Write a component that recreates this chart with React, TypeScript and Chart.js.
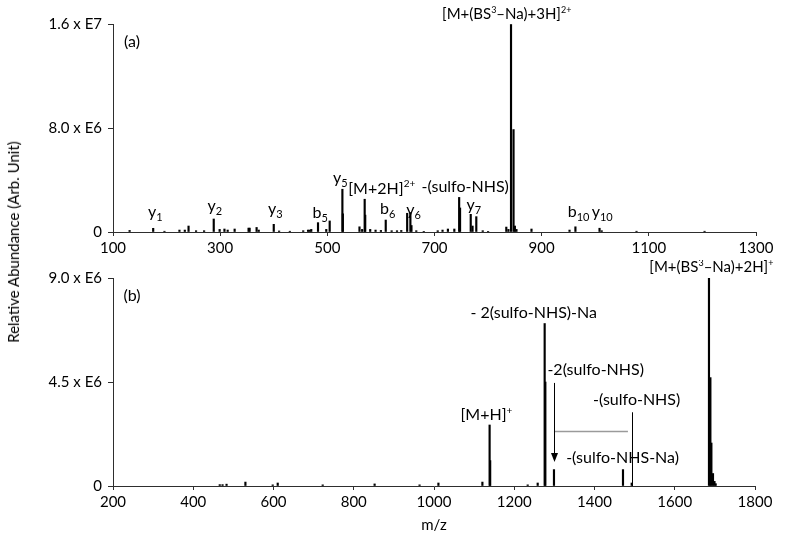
import React, { useEffect, useRef } from 'react';
import { Chart, registerables } from 'chart.js';
Chart.register(...registerables);

const FONT = 'Lato, "Open Sans", sans-serif';

// ---------- Panel (a) ----------
const xTicksA = [100, 300, 500, 700, 900, 1100, 1300];
const yTicksA = [0, 8e6, 1.6e7];
const yTickLabelsA = ['0', '8.0 x E6', '1.6 x E7'];
const mzA = [
  131, 175, 196, 224, 234, 241, 255, 270, 288, 299,
  308, 314, 327, 353, 355, 368, 372, 400, 410, 430,
  455, 464, 467, 470, 482.6, 498, 504.4, 528.1, 529, 560,
  565, 569.7, 570.7, 580, 590, 600, 609, 620, 630, 638,
  649, 655, 657, 666, 680, 706, 715, 725, 737, 746,
  747.7, 767.6, 771, 778, 790, 800, 834, 838, 842.8, 847.5,
  850, 853, 881, 952, 963, 1008, 1012, 1077, 1204,
];
const intensityA = [
  1.2e5, 2.85e5, 6e4, 1.5e5, 1.5e5, 4.6e5, 1e5, 1e5, 1.0e6, 2e5,
  2.3e5, 1.5e5, 2.3e5, 3e5, 3e5, 3.5e5, 1.5e5, 5.9e5, 8e4, 6e4,
  1e5, 1.5e5, 1.5e5, 2e5, 7.2e5, 2e5, 8.5e5, 3.29e6, 1.4e6, 4e5,
  2e5, 2.52e6, 1.3e6, 2e5, 1.5e5, 1.2e5, 9.2e5, 1e5, 1e5, 1.2e5,
  1.44e6, 1.49e6, 5e5, 1e5, 5e4, 1e5, 1.5e5, 2.3e5, 2.3e5, 2.66e6,
  1.85e6, 1.36e6, 4.6e5, 1.18e6, 1e5, 5e4, 3.8e5, 2e5, 1.596e7, 7.88e6,
  4.6e5, 2e5, 2.3e5, 1.5e5, 4e5, 2.9e5, 1e5, 6e4, 6e4,
];
const labelTextA = [
  'y_{1}', 'y_{2}', 'y_{3}', 'b_{5}', 'y_{5}', '[M+2H]^{2+}', 'b_{6}', 'y_{6}',
  '-(sulfo-NHS)', 'y_{7}', 'b_{10}', 'y_{10}', '[M+(BS^{3}–Na)+3H]^{2+}',
];
const labelMzA = [178.8, 289.8, 402.7, 486.7, 524, 601.5, 612.7, 661, 757.3, 773.2, 969, 1013, 834.8];
const labelIntA = [1.18e6, 1.64e6, 1.41e6, 1.08e6, 3.8e6, 2.95e6, 1.41e6, 1.33e6, 3.1e6, 1.72e6, 1.18e6, 1.18e6, 1.635e7];

// ---------- Panel (b) ----------
const xTicksB = [200, 400, 600, 800, 1000, 1200, 1400, 1600, 1800];
const yTicksB = [0, 4.5e6, 9.0e6];
const yTickLabelsB = ['0', '4.5 x E6', '9.0 x E6'];
const mzB = [
  466, 473, 483, 530, 598, 610.5, 722.6, 852, 964, 1011,
  1120.6, 1138.6, 1140, 1233.5, 1258.4, 1275.8, 1277.5, 1299, 1471, 1492.7,
  1685.3, 1688.8, 1691.3, 1695.3, 1699, 1702,
];
const intensityB = [
  6e4, 6e4, 8e4, 1.7e5, 5e4, 1.3e5, 5e4, 9e4, 5e4, 1.3e5,
  1.7e5, 2.64e6, 1.1e6, 5e4, 1.3e5, 7.03e6, 4.5e6, 7.1e5, 7.1e5, 1.3e5,
  9.0e6, 4.69e6, 1.86e6, 5.4e5, 2e5, 1e5,
];
const labelTextB = [
  '[M+(BS^{3}–Na)+2H]^{+}', '- 2(sulfo-NHS)-Na', '-2(sulfo-NHS)', '-(sulfo-NHS)', '[M+H]^{+}', '-(sulfo-NHS-Na)',
];
const labelMzB = [1691.3, 1248.5, 1403, 1505, 1130.6, 1470];
const labelIntB = [9.25e6, 7.26e6, 4.79e6, 3.49e6, 2.84e6, 9.8e5];
// arrow: [m/z, from intensity, to intensity]
const arrowB = [1299, 4.46e6, 1.04e6];
// bracket: [m/z start, m/z end, intensity]
const bracketB = [1299, 1483.3, 2.38e6];
// leader: [m/z, from intensity, to intensity]
const leaderB = [1492.7, 3.19e6, 0];

type Part = { t: string; k: 'n' | 'sub' | 'sup' };
function parseRich(s: string): Part[] {
  const parts: Part[] = [];
  const re = /([_^])\{([^}]*)\}/g;
  let last = 0;
  let m: RegExpExecArray | null;
  while ((m = re.exec(s))) {
    if (m.index > last) parts.push({ t: s.slice(last, m.index), k: 'n' });
    parts.push({ t: m[2], k: m[1] === '_' ? 'sub' : 'sup' });
    last = re.lastIndex;
  }
  if (last < s.length) parts.push({ t: s.slice(last), k: 'n' });
  return parts;
}

function drawRich(ctx: CanvasRenderingContext2D, s: string, cx: number, base: number, size: number) {
  const parts = parseRich(s);
  const fontOf = (k: string) => `${k === 'n' ? size : k === 'sub' ? Math.round(size * 0.7) : Math.round(size * 0.6)}px ${FONT}`;
  let w = 0;
  const widths = parts.map((p) => {
    ctx.font = fontOf(p.k);
    const mw = ctx.measureText(p.t).width;
    w += mw;
    return mw;
  });
  let x = cx - w / 2;
  ctx.textAlign = 'left';
  ctx.textBaseline = 'alphabetic';
  parts.forEach((p, i) => {
    ctx.font = fontOf(p.k);
    const dy = p.k === 'sub' ? size * 0.25 : p.k === 'sup' ? -size * 0.42 : 0;
    ctx.fillText(p.t, x, base + dy);
    x += widths[i];
  });
}

function labelPlugin(id: string, tag: string, texts: string[], mzs: number[], ints: number[], extra?: (c: any) => void) {
  return {
    id,
    afterDatasetsDraw(chart: any) {
      const { ctx, scales, chartArea } = chart;
      const xs = scales.x;
      const ys = scales.y;
      ctx.save();
      ctx.fillStyle = '#000';
      texts.forEach((t, i) => {
        const size = t.length > 18 ? 15 : 16;
        drawRich(ctx, t, xs.getPixelForValue(mzs[i]), ys.getPixelForValue(ints[i]), size);
      });
      drawRich(ctx, tag, chartArea.left + 19, chartArea.top + 23, 16);
      if (extra) extra(chart);
      ctx.restore();
    },
  };
}

function annotB(chart: any) {
  const { ctx, scales } = chart;
  const xs = scales.x;
  const ys = scales.y;
  // bracket (gray)
  ctx.strokeStyle = '#9a9a9a';
  ctx.lineWidth = 1.5;
  ctx.beginPath();
  const by = Math.round(ys.getPixelForValue(bracketB[2])) + 0.5;
  ctx.moveTo(xs.getPixelForValue(bracketB[0]), by);
  ctx.lineTo(xs.getPixelForValue(bracketB[1]), by);
  ctx.stroke();
  // arrow
  const ax = Math.round(xs.getPixelForValue(arrowB[0])) + 0.5;
  const ay0 = ys.getPixelForValue(arrowB[1]);
  const ay1 = ys.getPixelForValue(arrowB[2]);
  ctx.strokeStyle = '#000';
  ctx.lineWidth = 1;
  ctx.beginPath();
  ctx.moveTo(ax, ay0);
  ctx.lineTo(ax, ay1 - 8);
  ctx.stroke();
  ctx.fillStyle = '#000';
  ctx.beginPath();
  ctx.moveTo(ax - 3.5, ay1 - 9);
  ctx.lineTo(ax + 3.5, ay1 - 9);
  ctx.lineTo(ax, ay1);
  ctx.closePath();
  ctx.fill();
  // leader
  const lx = Math.round(xs.getPixelForValue(leaderB[0])) + 0.5;
  ctx.beginPath();
  ctx.moveTo(lx, ys.getPixelForValue(leaderB[1]));
  ctx.lineTo(lx, ys.getPixelForValue(leaderB[2]));
  ctx.stroke();
}

function buildConfig(opts: {
  mz: number[]; ints: number[]; xTicks: number[]; yTicks: number[]; yLabels: string[];
  plugin: any; xTitle?: string; xHeight: number; padTop: number; padRight: number;
}): any {
  const { mz, ints, xTicks, yTicks, yLabels, plugin, xTitle, xHeight, padTop, padRight } = opts;
  const axisColor = '#2e2e2e';
  const tickFont = { family: FONT, size: 15 };
  return {
    type: 'bar',
    data: {
      datasets: [
        {
          data: mz.map((m, i) => ({ x: m, y: ints[i] })),
          backgroundColor: '#000',
          borderWidth: 0,
          barThickness: 1.5,
        },
      ],
    },
    options: {
      animation: false,
      responsive: false,
      devicePixelRatio: 1,
      layout: { padding: { top: padTop, right: padRight, bottom: 0, left: 0 } },
      plugins: { legend: { display: false }, tooltip: { enabled: false }, title: { display: false } },
      scales: {
        x: {
          type: 'linear',
          min: xTicks[0],
          max: xTicks[xTicks.length - 1],
          offset: false,
          afterBuildTicks: (s: any) => { s.ticks = xTicks.map((v) => ({ value: v })); },
          afterFit: (s: any) => { s.height = xHeight; },
          ticks: { color: '#000', font: tickFont, padding: 3, maxRotation: 0, autoSkip: false, callback: (v: any) => String(v) },
          grid: { display: true, drawOnChartArea: false, drawTicks: true, tickLength: 4, color: axisColor, offset: false },
          border: { display: true, color: axisColor, width: 1 },
          title: xTitle
            ? { display: true, text: xTitle, color: '#000', font: { family: FONT, size: 15 }, padding: { top: 0, bottom: 9 } }
            : { display: false },
        },
        y: {
          type: 'linear',
          min: 0,
          max: yTicks[yTicks.length - 1],
          afterBuildTicks: (s: any) => { s.ticks = yTicks.map((v) => ({ value: v })); },
          afterFit: (s: any) => { s.width = 113; },
          ticks: {
            color: '#000', font: tickFont, padding: 6,
            callback: (v: any) => { const i = yTicks.indexOf(v); return i >= 0 ? yLabels[i] : ''; },
          },
          grid: { display: true, drawOnChartArea: false, drawTicks: true, tickLength: 5, color: axisColor },
          border: { display: true, color: axisColor, width: 1 },
        },
      },
    },
    plugins: [plugin],
  };
}

export default function App() {
  const refA = useRef<HTMLCanvasElement>(null);
  const refB = useRef<HTMLCanvasElement>(null);
  useEffect(() => {
    const a = new Chart(refA.current!, buildConfig({
      mz: mzA, ints: intensityA, xTicks: xTicksA, yTicks: yTicksA, yLabels: yTickLabelsA,
      plugin: labelPlugin('labelsA', '(a)', labelTextA, labelMzA, labelIntA),
      xHeight: 28, padTop: 24, padRight: 44,
    }));
    const b = new Chart(refB.current!, buildConfig({
      mz: mzB, ints: intensityB, xTicks: xTicksB, yTicks: yTicksB, yLabels: yTickLabelsB,
      plugin: labelPlugin('labelsB', '(b)', labelTextB, labelMzB, labelIntB, annotB),
      xTitle: 'm/z', xHeight: 57, padTop: 18, padRight: 45,
    }));
    return () => { a.destroy(); b.destroy(); };
  }, []);
  return (
    <div style={{ position: 'absolute', left: 0, top: 0, width: 800, height: 543, background: '#fff', overflow: 'hidden' }}>
      <canvas ref={refA} width={800} height={260} style={{ position: 'absolute', left: 0, top: 0, width: 800, height: 260 }} />
      <canvas ref={refB} width={800} height={283} style={{ position: 'absolute', left: 0, top: 260, width: 800, height: 283 }} />
      <div
        style={{
          position: 'absolute', left: 13, top: 242, transform: 'translate(-50%, -50%) rotate(-90deg)',
          whiteSpace: 'nowrap', font: `15px ${FONT}`, color: '#000', lineHeight: '18px',
        }}
      >
        Relative Abundance (Arb. Unit)
      </div>
    </div>
  );
}
